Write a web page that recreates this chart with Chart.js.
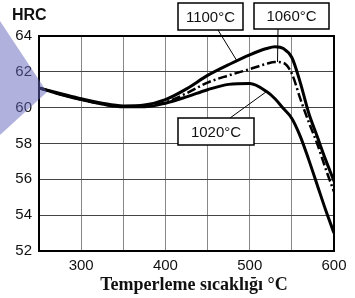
<!DOCTYPE html>
<html>
<head>
<meta charset="utf-8">
<script src="https://cdn.jsdelivr.net/npm/chart.js@4.4.1/dist/chart.umd.min.js"></script>
<style>
  body { margin: 0; background: #fff; }
  canvas { display: block; }
</style>
</head>
<body>
<canvas id="chart" width="355" height="298"></canvas>
<script>
"use strict";

// tempering temperature (°C)
const temps = [250, 275, 300, 325, 350, 375, 400, 425, 450, 475, 500, 520, 530, 540, 550, 560, 570, 580, 590, 600];
// hardness HRC per austenitizing temperature
const hrc1020 = [61.1, 60.75, 60.45, 60.2, 60.05, 60.05, 60.25, 60.6, 61.0, 61.3, 61.35, 60.9, 60.5, 59.95, 59.4, 58.4, 57.1, 55.7, 54.3, 53.0];
const hrc1060 = [61.1, 60.75, 60.45, 60.2, 60.05, 60.1, 60.3, 60.8, 61.4, 61.8, 62.15, 62.45, 62.55, 62.5, 61.9, 60.5, 59.2, 58.0, 56.6, 55.3];
const hrc1100 = [61.1, 60.8, 60.5, 60.25, 60.1, 60.15, 60.45, 61.05, 61.8, 62.4, 62.95, 63.3, 63.4, 63.3, 62.8, 61.4, 59.7, 58.4, 57.1, 55.9];

const xTickLabels = [300, 400, 500, 600];
const seriesNames = ["1020°C", "1060°C", "1100°C"];
// where each label's pointer touches its curve [temp, HRC]
const pointerTargets = [[520, 60.9], [533, 62.55], [485, 62.6]];

function toPoints(values) {
  return temps.map((t, i) => ({ x: t, y: values[i] }));
}

const extras = {
  id: "extras",
  afterDraw(chart) {
    const ctx = chart.ctx;
    const a = chart.chartArea;
    const xs = chart.scales.x;
    const ys = chart.scales.y;
    ctx.save();

    // frame
    ctx.strokeStyle = "#000";
    ctx.lineWidth = 2;
    ctx.strokeRect(a.left, a.top, a.right - a.left, a.bottom - a.top);

    // axis titles
    ctx.fillStyle = "#111";
    ctx.font = "bold 16px 'Liberation Sans', Arial, sans-serif";
    ctx.textAlign = "left";
    ctx.textBaseline = "middle";
    ctx.fillText("HRC", 12, 16);
    ctx.font = "bold 18px 'Liberation Serif', 'Times New Roman', serif";
    ctx.textAlign = "center";
    ctx.fillText("Temperleme sıcaklığı °C", 194, 285);

    // label boxes with pointers
    const boxes = [
      { x: 178, y: 118, w: 76, h: 27, px: 230, py: 118 },
      { x: 254, y: 3, w: 75, h: 26, px: 278, py: 29 },
      { x: 178, y: 3, w: 65, h: 27, px: 218, py: 30 }
    ];
    ctx.font = "15px 'Liberation Sans', Arial, sans-serif";
    boxes.forEach((b, i) => {
      const tx = xs.getPixelForValue(pointerTargets[i][0]);
      const ty = ys.getPixelForValue(pointerTargets[i][1]);
      ctx.strokeStyle = "#000";
      ctx.lineWidth = 1;
      ctx.beginPath();
      ctx.moveTo(b.px, b.py);
      ctx.lineTo(tx, ty);
      ctx.stroke();
      ctx.fillStyle = "#fff";
      ctx.fillRect(b.x, b.y, b.w, b.h);
      ctx.lineWidth = 1.5;
      ctx.strokeRect(b.x, b.y, b.w, b.h);
      ctx.fillStyle = "#111";
      ctx.textAlign = "center";
      ctx.fillText(seriesNames[i], b.x + b.w / 2, b.y + b.h / 2 + 1);
    });

    // lavender triangle on the left edge
    ctx.fillStyle = "rgba(100, 100, 190, 0.5)";
    ctx.beginPath();
    ctx.moveTo(0, 21);
    ctx.lineTo(47, 92);
    ctx.lineTo(0, 135);
    ctx.closePath();
    ctx.fill();

    ctx.restore();
  }
};

const config = {
  type: "line",
  data: {
    datasets: [
      {
        label: seriesNames[0],
        data: toPoints(hrc1020),
        borderColor: "#000",
        borderWidth: 3,
        pointRadius: 0,
        cubicInterpolationMode: "monotone"
      },
      {
        label: seriesNames[2],
        data: toPoints(hrc1100),
        borderColor: "#000",
        borderWidth: 3,
        pointRadius: 0,
        cubicInterpolationMode: "monotone"
      },
      {
        label: seriesNames[1],
        data: toPoints(hrc1060),
        borderColor: "#000",
        borderWidth: 2.5,
        borderDash: [9, 3, 2, 3],
        pointRadius: 0,
        cubicInterpolationMode: "monotone"
      }
    ]
  },
  options: {
    responsive: false,
    animation: false,
    layout: { padding: { left: 0, top: 36, right: 21, bottom: 0 } },
    plugins: { legend: { display: false }, tooltip: { enabled: false } },
    scales: {
      x: {
        type: "linear",
        min: 250,
        max: 600,
        ticks: {
          stepSize: 50,
          autoSkip: false,
          maxRotation: 0,
          padding: 6,
          color: "#111",
          font: { size: 15, family: "'Liberation Sans', Arial, sans-serif" },
          callback: (v) => (xTickLabels.includes(v) ? v : "")
        },
        grid: { color: "#888", drawTicks: false },
        border: { display: false },
        afterFit: (s) => { s.height = 47; }
      },
      y: {
        min: 52,
        max: 64,
        ticks: {
          stepSize: 2,
          padding: 7,
          color: "#111",
          font: { size: 15, family: "'Liberation Sans', Arial, sans-serif" }
        },
        grid: { color: "#444", drawTicks: false },
        border: { display: false },
        afterFit: (s) => { s.width = 39; }
      }
    }
  },
  plugins: [extras]
};

new Chart(document.getElementById("chart"), config);
</script>
</body>
</html>
